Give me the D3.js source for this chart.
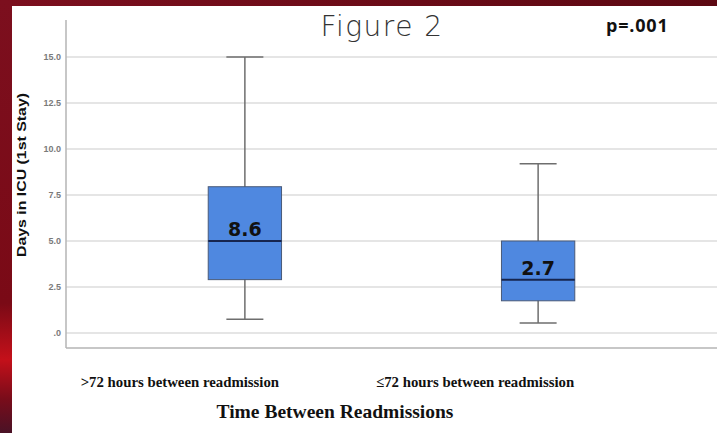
<!DOCTYPE html>
<html><head><meta charset="utf-8">
<script src="https://cdn.jsdelivr.net/npm/d3@7"></script>
<style>body{margin:0;background:#fff;}svg{display:block;}</style>
</head><body>
<svg id="c" width="717" height="433"></svg>
<script>
const categories = [">72 hours between readmission", "\u226472 hours between readmission"];
const whiskerLow = [0.75, 0.55];
const q1 = [2.9, 1.75];
const median = [5.0, 2.9];
const q3 = [7.95, 5.0];
const whiskerHigh = [15.0, 9.2];
const boxLabels = ["8.6", "2.7"];
const yTicks = [0, 2.5, 5.0, 7.5, 10.0, 12.5, 15.0];
const yTickLabels = [".0", "2.5", "5.0", "7.5", "10.0", "12.5", "15.0"];

(function(){
const svg = d3.select("#c");
const defs = svg.append("defs");
const lg = defs.append("linearGradient").attr("id","lg").attr("x1",0).attr("y1",0).attr("x2",0).attr("y2",1);
[[0,"#7c0f1e"],[0.7,"#7a0a16"],[0.83,"#c4101a"],[0.92,"#7a0c1a"],[1,"#4a1226"]].forEach(([o,c])=>lg.append("stop").attr("offset",o).attr("stop-color",c));
const tg = defs.append("linearGradient").attr("id","tg").attr("x1",0).attr("y1",0).attr("x2",1).attr("y2",0);
[[0,"#7c0f1e"],[1,"#5c0812"]].forEach(([o,c])=>tg.append("stop").attr("offset",o).attr("stop-color",c));
svg.append("rect").attr("x",0).attr("y",0).attr("width",717).attr("height",6).attr("fill","url(#tg)");
svg.append("rect").attr("x",0).attr("y",0).attr("width",12).attr("height",433).attr("fill","url(#lg)");

const pl = 66, pr = 717, pt = 20, pb = 348;
const y = d3.scaleLinear().domain([0, 15]).range([333, 57]);
const x = d3.scaleBand().domain(categories).range([pl, pr]).paddingInner(0.75).paddingOuter(0.485);

// gridlines
svg.append("g").selectAll("line").data(yTicks).join("line")
  .attr("x1", pl).attr("x2", pr).attr("y1", d=>y(d)).attr("y2", d=>y(d))
  .attr("stroke", "#dcdcdc").attr("stroke-width", 1.5);

// y axis
const yAxis = d3.axisLeft(y).tickValues(yTicks).tickSize(0).tickPadding(5)
  .tickFormat((d,i)=>yTickLabels[i]);
const ga = svg.append("g").attr("transform", `translate(${pl},0)`).call(yAxis);
ga.select(".domain").remove();
ga.selectAll("text").attr("fill","#7a7a7a").style("font-family","Liberation Sans, Arial, sans-serif")
  .style("font-size","9px").style("font-weight","bold");
svg.append("line").attr("x1",pl).attr("x2",pl).attr("y1",pt).attr("y2",pb).attr("stroke","#b4b4b4").attr("stroke-width",1.5);
svg.append("line").attr("x1",pl).attr("x2",pr).attr("y1",pb).attr("y2",pb).attr("stroke","#b4b4b4").attr("stroke-width",1.5);

const bw = x.bandwidth();
const capW = 37;
const g = svg.append("g").selectAll("g").data(categories).join("g");
g.append("line").attr("x1",(d)=>x(d)+bw/2).attr("x2",(d)=>x(d)+bw/2)
  .attr("y1",(d,i)=>y(whiskerLow[i])).attr("y2",(d,i)=>y(whiskerHigh[i]))
  .attr("stroke","#6e6e6e").attr("stroke-width",1.5);
g.append("line").attr("x1",(d)=>x(d)+bw/2-capW/2).attr("x2",(d)=>x(d)+bw/2+capW/2)
  .attr("y1",(d,i)=>y(whiskerHigh[i])).attr("y2",(d,i)=>y(whiskerHigh[i]))
  .attr("stroke","#6e6e6e").attr("stroke-width",1.5);
g.append("line").attr("x1",(d)=>x(d)+bw/2-capW/2).attr("x2",(d)=>x(d)+bw/2+capW/2)
  .attr("y1",(d,i)=>y(whiskerLow[i])).attr("y2",(d,i)=>y(whiskerLow[i]))
  .attr("stroke","#6e6e6e").attr("stroke-width",1.5);
g.append("rect").attr("x",d=>x(d)).attr("width",bw)
  .attr("y",(d,i)=>y(q3[i])).attr("height",(d,i)=>y(q1[i])-y(q3[i]))
  .attr("fill","#4f88e0").attr("stroke","#4a5a78").attr("stroke-width",1);
g.append("line").attr("x1",d=>x(d)).attr("x2",d=>x(d)+bw)
  .attr("y1",(d,i)=>y(median[i])).attr("y2",(d,i)=>y(median[i]))
  .attr("stroke","#16254f").attr("stroke-width",2);
g.append("text").attr("x",d=>x(d)+bw/2).attr("y",(d,i)=>y(median[i])-5)
  .attr("text-anchor","middle").attr("fill","#111")
  .style("font-family","'DejaVu Sans', sans-serif").style("font-weight","bold").style("font-size","19px")
  .text((d,i)=>boxLabels[i]);

// category labels
const catOffsets = [-65, -63];
svg.append("g").selectAll("text").data(categories).join("text")
  .attr("x",(d,i)=>x(d)+bw/2+catOffsets[i]).attr("y",387).attr("text-anchor","middle")
  .attr("fill","#111").style("font-family","Liberation Serif, 'Times New Roman', serif")
  .style("font-weight","bold").style("font-size","14.8px").text(d=>d);

svg.append("text").attr("x",335).attr("y",418).attr("text-anchor","middle").attr("fill","#111")
  .style("font-family","Liberation Serif, 'Times New Roman', serif").style("font-weight","bold").style("font-size","19.5px")
  .text("Time Between Readmissions");

svg.append("text").attr("transform","translate(26,175) rotate(-90)").attr("text-anchor","middle").attr("fill","#111")
  .attr("textLength",164).attr("lengthAdjust","spacingAndGlyphs")
  .style("font-family","Liberation Sans, Arial, sans-serif").style("font-weight","bold").style("font-size","13.5px")
  .text("Days in ICU (1st Stay)");

svg.append("text").attr("x",382).attr("y",36).attr("text-anchor","middle").attr("fill","#333")
  .style("font-family","'DejaVu Sans', sans-serif").style("font-weight","300").style("font-size","28px")
  .style("letter-spacing","1.5px")
  .text("Figure 2");

svg.append("text").attr("x",606).attr("y",32).attr("fill","#111")
  .style("font-family","'Open Sans', 'Noto Sans', sans-serif").style("font-weight","bold").style("font-size","18px")
  .style("letter-spacing","0.8px")
  .text("p=.001");
})();
</script>
</body></html>
